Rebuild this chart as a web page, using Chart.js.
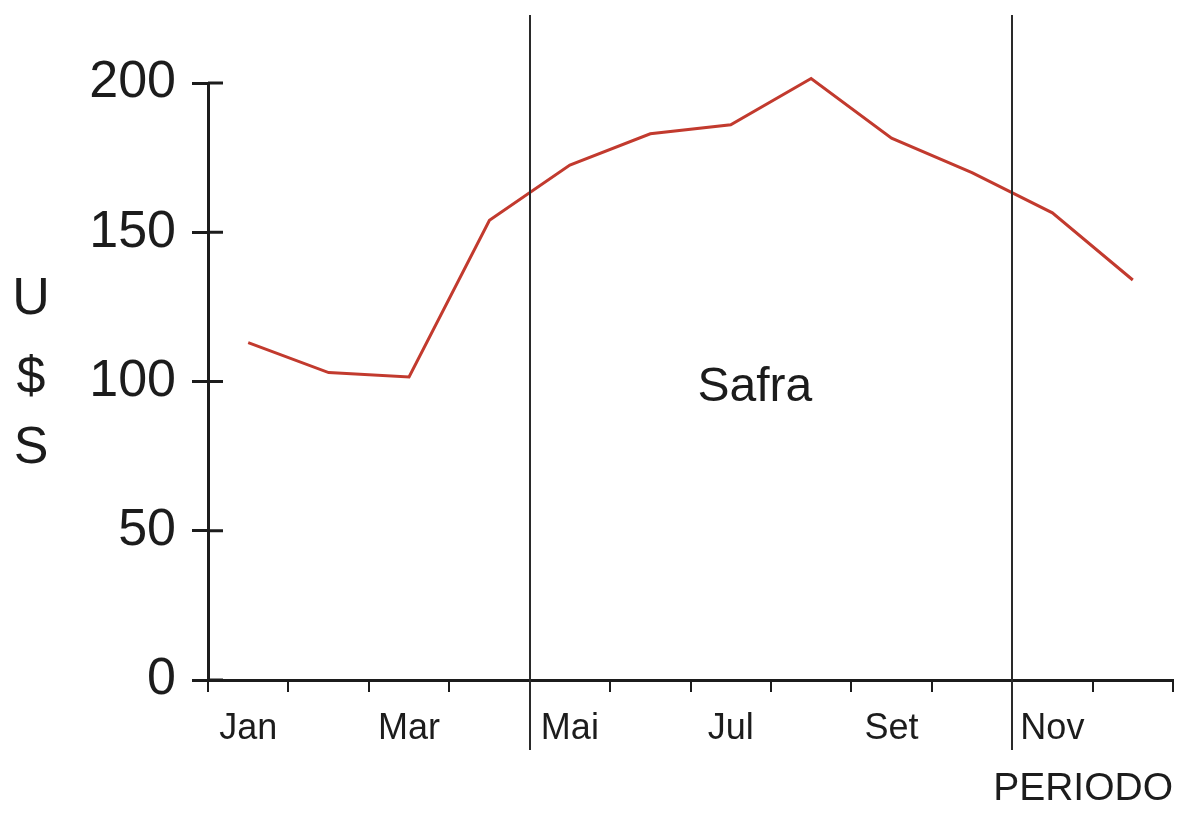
<!DOCTYPE html>
<html>
<head>
<meta charset="utf-8">
<title>Preço US$ por período</title>
<script src="https://cdn.jsdelivr.net/npm/chart.js@4/dist/chart.umd.min.js"></script>
<style>
    body { margin: 0; background: #ffffff; }
    #wrap { width: 1182px; height: 817px; }
</style>
</head>
<body>
<div id="wrap"><canvas id="precoChart"></canvas></div>
<script>
// months of the year (only every other one gets a label)
const meses = ['Jan', 'Fev', 'Mar', 'Abr', 'Mai', 'Jun', 'Jul', 'Ago', 'Set', 'Out', 'Nov', 'Dez'];
// price in US$ per month
const precos = [113, 103, 101.5, 154, 172.5, 183, 186, 201.5, 181.5, 170, 156.5, 134];
// y axis ticks
const yMin = 0;
const yMax = 200;
const yStep = 50;
// harvest period sits between these two month boundaries
const safraInicio = 3.5;
const safraFim = 9.5;

const inkColor = '#1c1c1c';
const lineColor = '#c23a2e';
const fontFamily = "'Liberation Sans', Arial, sans-serif";

// draws the harvest boundaries, the inner half of the y ticks and the loose texts
const extrasPlugin = {
    id: 'extras',
    afterDraw: function(chart) {
        const ctx = chart.ctx;
        const x = chart.scales.x;
        const y = chart.scales.y;
        const area = chart.chartArea;

        ctx.save();

        // y ticks cross the axis line
        ctx.strokeStyle = inkColor;
        ctx.lineWidth = 3;
        y.ticks.forEach(function(t) {
            const py = y.getPixelForValue(t.value);
            ctx.beginPath();
            ctx.moveTo(area.left, py);
            ctx.lineTo(area.left + 15, py);
            ctx.stroke();
        });

        // safra boundaries, running from near the top edge to below the month labels
        ctx.strokeStyle = '#2a2a2a';
        ctx.lineWidth = 2;
        [safraInicio, safraFim].forEach(function(v) {
            const px = Math.round((x.getPixelForValue(Math.floor(v)) + x.getPixelForValue(Math.ceil(v))) / 2);
            ctx.beginPath();
            ctx.moveTo(px, 15);
            ctx.lineTo(px, area.bottom + 70);
            ctx.stroke();
        });

        ctx.fillStyle = inkColor;
        ctx.textAlign = 'center';
        ctx.textBaseline = 'middle';

        ctx.font = '48px ' + fontFamily;
        ctx.fillText('Safra', x.getPixelForValue(6.3), y.getPixelForValue(98));

        // vertical "U $ S" axis title
        ctx.font = '52px ' + fontFamily;
        ctx.fillText('U', 31, 300);
        ctx.fillText('$', 31, 379);
        ctx.fillText('S', 31, 449);

        ctx.restore();
    }
};

const ctx = document.getElementById('precoChart').getContext('2d');
new Chart(ctx, {
    type: 'line',
    data: {
        labels: meses,
        datasets: [{
            data: precos,
            borderColor: lineColor,
            borderWidth: 3,
            pointRadius: 0,
            tension: 0,
            fill: false,
            clip: false
        }]
    },
    options: {
        responsive: true,
        maintainAspectRatio: false,
        animation: false,
        layout: {
            padding: { top: 83, right: 9, bottom: 0, left: 0 }
        },
        plugins: {
            legend: { display: false },
            tooltip: { enabled: false }
        },
        scales: {
            x: {
                offset: true,
                border: { display: true, color: inkColor, width: 3 },
                grid: {
                    offset: true,
                    drawOnChartArea: false,
                    drawTicks: true,
                    tickLength: 12,
                    color: inkColor,
                    lineWidth: 2
                },
                ticks: {
                    autoSkip: false,
                    maxRotation: 0,
                    padding: 15,
                    color: inkColor,
                    font: { family: fontFamily, size: 36 },
                    callback: function(value, index) {
                        return index % 2 === 0 ? meses[index] : '';
                    }
                },
                title: {
                    display: true,
                    text: 'PERIODO',
                    align: 'end',
                    color: inkColor,
                    font: { family: fontFamily, size: 39 }
                },
                afterFit: function(scale) {
                    scale.height = 137;
                    scale.paddingLeft = 0;
                    scale.paddingRight = 0;
                }
            },
            y: {
                min: yMin,
                max: yMax,
                border: { display: true, color: inkColor, width: 3 },
                grid: {
                    drawOnChartArea: false,
                    drawTicks: true,
                    tickLength: 16,
                    color: inkColor,
                    lineWidth: 3
                },
                ticks: {
                    stepSize: yStep,
                    padding: 16,
                    color: inkColor,
                    font: { family: fontFamily, size: 52 }
                },
                afterFit: function(scale) {
                    scale.width = 208;
                    scale.paddingTop = 0;
                    scale.paddingBottom = 0;
                }
            }
        }
    },
    plugins: [extrasPlugin]
});
</script>
</body>
</html>
